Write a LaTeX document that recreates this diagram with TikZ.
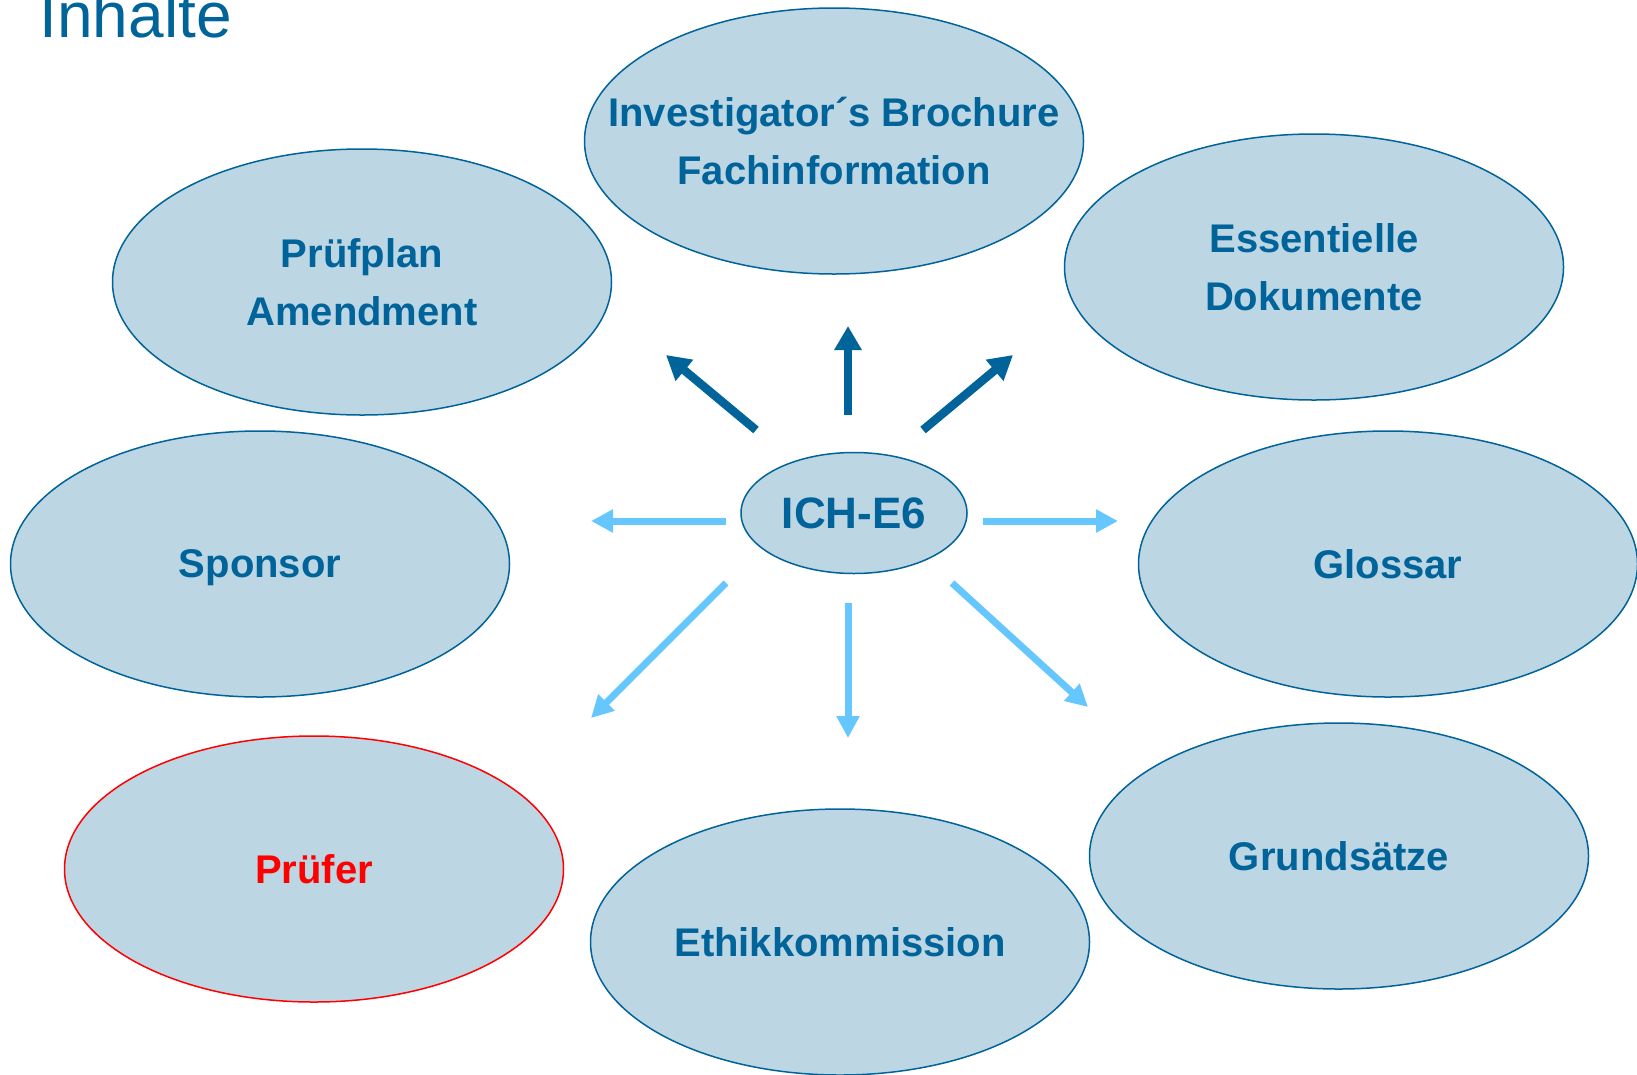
\documentclass[tikz,border=0pt]{standalone}
\usepackage{fontspec}
\setmainfont{Liberation Sans}
\usetikzlibrary{shapes.geometric,arrows.meta}
\definecolor{dblue}{RGB}{0,99,153}
\definecolor{lfill}{RGB}{188,214,227}
\definecolor{larrow}{RGB}{102,199,255}
\definecolor{pred}{RGB}{255,0,0}
\begin{document}
\begin{tikzpicture}[x=1pt,y=-1pt,
  bubble/.style={ellipse, draw=dblue, fill=lfill, line width=1.5pt,
    minimum width=499pt, minimum height=266pt, inner sep=0pt, text=dblue,
    font=\fontsize{40}{58}\selectfont\bfseries, align=center},
  darrow/.style={draw=dblue, line width=8.5pt, -{Triangle[length=24pt,width=26pt]}},
  larr/.style={draw=larrow, line width=7pt, -{Triangle[length=22pt,width=22pt]}}]
\useasboundingbox (0,0) rectangle (1637,1074);
\node[anchor=base west, text=dblue, font=\fontsize{64}{64}\selectfont] (title) at (36,37) {Inhalte};

\node[bubble] (inv) at (834,141) {\makebox[0pt]{Investigator´s Brochure}\\\makebox[0pt]{Fachinformation}};
\node[bubble] (pp) at (362,282) {Prüfplan\\Amendment};
\node[bubble] (ess) at (1314,267) {Essentielle\\Dokumente};
\node[bubble, text depth=0pt] (spo) at (260,564) {Sponsor};
\node[bubble] (glo) at (1388,564) {Glossar};
\node[bubble, draw=pred, text=pred] (pru) at (314,869) {Prüfer};
\node[bubble] (eth) at (840,942) {Ethikkommission};
\node[bubble] (gru) at (1339,856) {Grundsätze};

\node[ellipse, draw=dblue, fill=lfill, line width=1.5pt, minimum width=226pt,
  minimum height=121pt, inner sep=0pt, text=dblue,
  font=\fontsize{44}{50}\selectfont\bfseries] (ich) at (854,513) {ICH-E6};

\coordinate (sU) at (848,415);  \coordinate (eU) at (848,326);
\coordinate (sUL) at (756,430); \coordinate (eUL) at (666,355);
\coordinate (sUR) at (923,430); \coordinate (eUR) at (1013,355);
\coordinate (sL) at (726,521);  \coordinate (eL) at (591,521);
\coordinate (sR) at (983,521);  \coordinate (eR) at (1118,521);
\coordinate (sDL) at (726,583); \coordinate (eDL) at (591,718);
\coordinate (sD) at (848,603);  \coordinate (eD) at (848,738);
\coordinate (sDR) at (952,583); \coordinate (eDR) at (1088,707);

\draw[darrow] (sU) -- (eU);
\draw[darrow] (sUL) -- (eUL);
\draw[darrow] (sUR) -- (eUR);
\draw[larr] (sL) -- (eL);
\draw[larr] (sR) -- (eR);
\draw[larr] (sDL) -- (eDL);
\draw[larr] (sD) -- (eD);
\draw[larr] (sDR) -- (eDR);
\end{tikzpicture}
\end{document}
